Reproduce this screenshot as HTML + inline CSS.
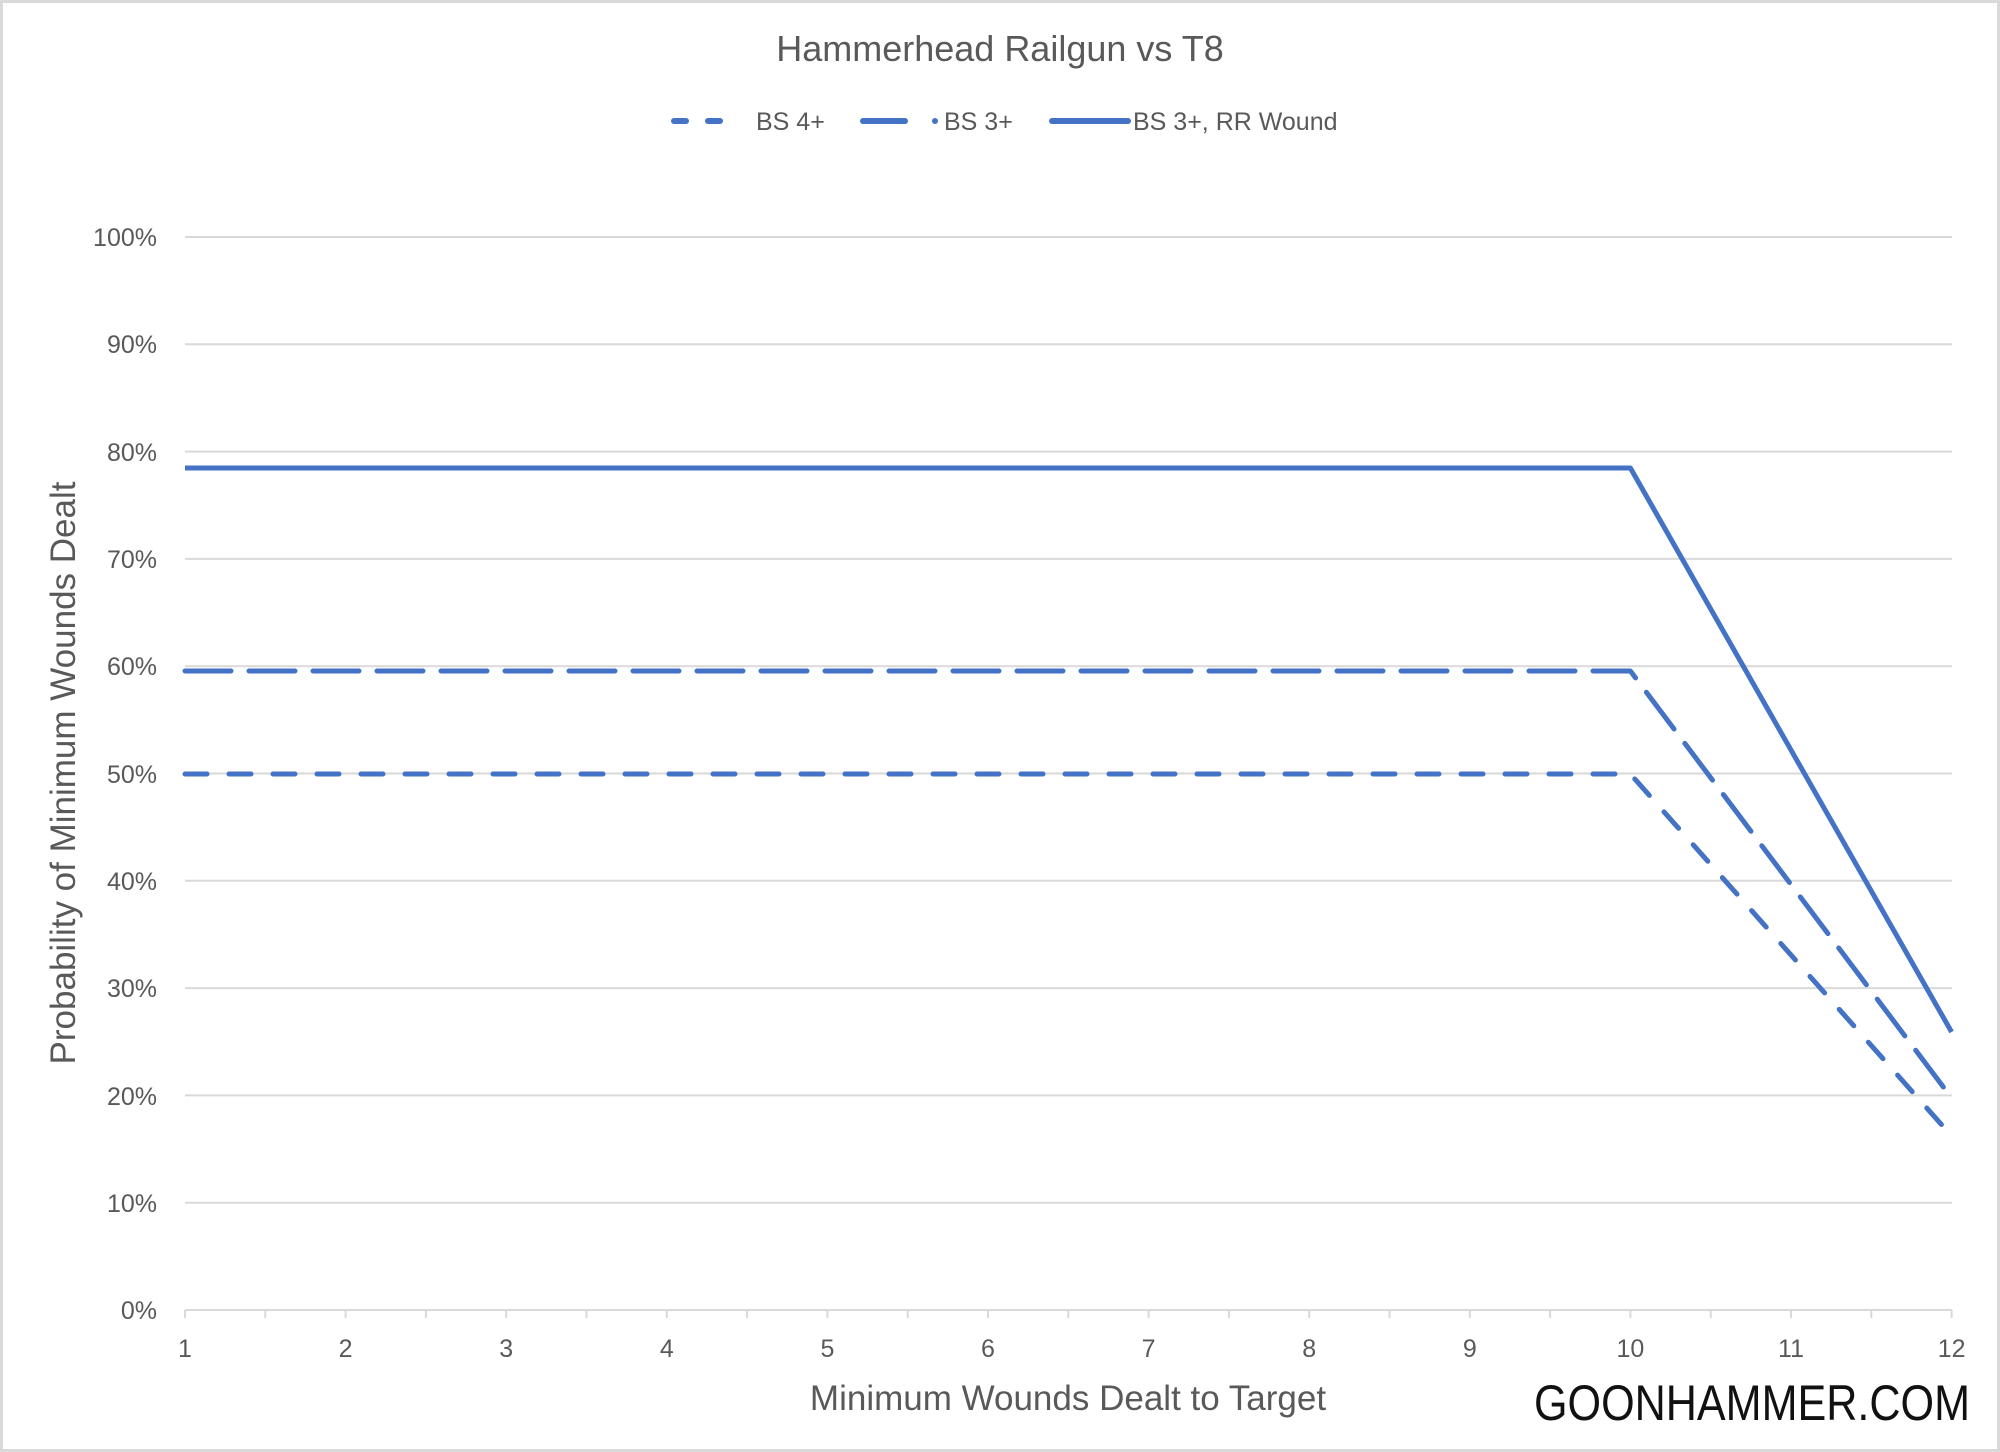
<!DOCTYPE html>
<html><head><meta charset="utf-8"><style>
html,body{margin:0;padding:0;background:#fff}
svg{display:block}
text{font-family:"Liberation Sans",sans-serif}
</style></head><body>
<svg width="2000" height="1452" viewBox="0 0 2000 1452" xmlns="http://www.w3.org/2000/svg">
<rect x="0" y="0" width="2000" height="1452" fill="#fff"/>
<rect x="1.5" y="1.5" width="1997" height="1449" fill="none" stroke="#d9d9d9" stroke-width="3"/>
<text x="1000" y="61" text-anchor="middle" font-size="36" fill="#595959">Hammerhead Railgun vs T8</text>
<!-- legend -->
<g stroke="#4472c4" stroke-width="6" stroke-linecap="round" fill="none">
<line x1="674" y1="121" x2="740" y2="121" stroke-dasharray="12 22"/>
<line x1="863" y1="121" x2="905" y2="121"/>
<line x1="935" y1="121" x2="935" y2="121"/>
<line x1="1052" y1="121" x2="1128" y2="121"/>
</g>
<g font-size="25" fill="#595959">
<text x="756" y="130">BS 4+</text>
<text x="944" y="130">BS 3+</text>
<text x="1133" y="130">BS 3+, RR Wound</text>
</g>
<!-- gridlines -->
<g stroke="#d9d9d9" stroke-width="2">
<line x1="185" y1="237" x2="1952" y2="237"/>
<line x1="185" y1="344.3" x2="1952" y2="344.3"/>
<line x1="185" y1="451.6" x2="1952" y2="451.6"/>
<line x1="185" y1="558.9" x2="1952" y2="558.9"/>
<line x1="185" y1="666.2" x2="1952" y2="666.2"/>
<line x1="185" y1="773.5" x2="1952" y2="773.5"/>
<line x1="185" y1="880.8" x2="1952" y2="880.8"/>
<line x1="185" y1="988.1" x2="1952" y2="988.1"/>
<line x1="185" y1="1095.4" x2="1952" y2="1095.4"/>
<line x1="185" y1="1202.7" x2="1952" y2="1202.7"/>
<line x1="185" y1="1310" x2="1952" y2="1310"/>
</g>
<g stroke="#d9d9d9" stroke-width="2">
<line x1="185" y1="1310" x2="185" y2="1318"/><line x1="265.3" y1="1310" x2="265.3" y2="1318"/>
<line x1="345.6" y1="1310" x2="345.6" y2="1318"/><line x1="425.9" y1="1310" x2="425.9" y2="1318"/>
<line x1="506.2" y1="1310" x2="506.2" y2="1318"/><line x1="586.5" y1="1310" x2="586.5" y2="1318"/>
<line x1="666.8" y1="1310" x2="666.8" y2="1318"/><line x1="747.1" y1="1310" x2="747.1" y2="1318"/>
<line x1="827.4" y1="1310" x2="827.4" y2="1318"/><line x1="907.7" y1="1310" x2="907.7" y2="1318"/>
<line x1="988" y1="1310" x2="988" y2="1318"/><line x1="1068.3" y1="1310" x2="1068.3" y2="1318"/>
<line x1="1148.6" y1="1310" x2="1148.6" y2="1318"/><line x1="1228.9" y1="1310" x2="1228.9" y2="1318"/>
<line x1="1309.2" y1="1310" x2="1309.2" y2="1318"/><line x1="1389.5" y1="1310" x2="1389.5" y2="1318"/>
<line x1="1469.8" y1="1310" x2="1469.8" y2="1318"/><line x1="1550.1" y1="1310" x2="1550.1" y2="1318"/>
<line x1="1630.4" y1="1310" x2="1630.4" y2="1318"/><line x1="1710.7" y1="1310" x2="1710.7" y2="1318"/>
<line x1="1791" y1="1310" x2="1791" y2="1318"/><line x1="1871.3" y1="1310" x2="1871.3" y2="1318"/>
<line x1="1951.6" y1="1310" x2="1951.6" y2="1318"/>
</g>
<!-- y labels -->
<g font-size="25" fill="#595959" text-anchor="end">
<text x="157" y="246">100%</text><text x="157" y="353">90%</text><text x="157" y="461">80%</text>
<text x="157" y="568">70%</text><text x="157" y="675">60%</text><text x="157" y="783">50%</text>
<text x="157" y="890">40%</text><text x="157" y="997">30%</text><text x="157" y="1105">20%</text>
<text x="157" y="1212">10%</text><text x="157" y="1319">0%</text>
</g>
<g font-size="25" fill="#595959" text-anchor="middle">
<text x="185" y="1357">1</text><text x="345.6" y="1357">2</text><text x="506.2" y="1357">3</text>
<text x="666.8" y="1357">4</text><text x="827.4" y="1357">5</text><text x="988" y="1357">6</text>
<text x="1148.6" y="1357">7</text><text x="1309.2" y="1357">8</text><text x="1469.8" y="1357">9</text>
<text x="1630.4" y="1357">10</text><text x="1791" y="1357">11</text><text x="1951.6" y="1357">12</text>
</g>
<text x="1068" y="1410" text-anchor="middle" font-size="35" fill="#595959">Minimum Wounds Dealt to Target</text>
<text transform="translate(75,773) rotate(-90)" text-anchor="middle" font-size="35" fill="#595959">Probability of Minimum Wounds Dealt</text>
<!-- series -->
<g stroke="#4472c4" stroke-width="5" fill="none" stroke-linejoin="round">
<polyline points="185,468 1630.4,468 1951.6,1032"/>
<polyline points="185,671 1630.4,671 1951.6,1098" stroke-dasharray="46 18" stroke-linecap="round"/>
<polyline points="185,774 1630.4,774 1951.6,1136" stroke-dasharray="22 22" stroke-linecap="round"/>
</g>
<text x="1534" y="1420" font-size="50" fill="#111" textLength="436" lengthAdjust="spacingAndGlyphs">GOONHAMMER.COM</text>
</svg>
</body></html>
